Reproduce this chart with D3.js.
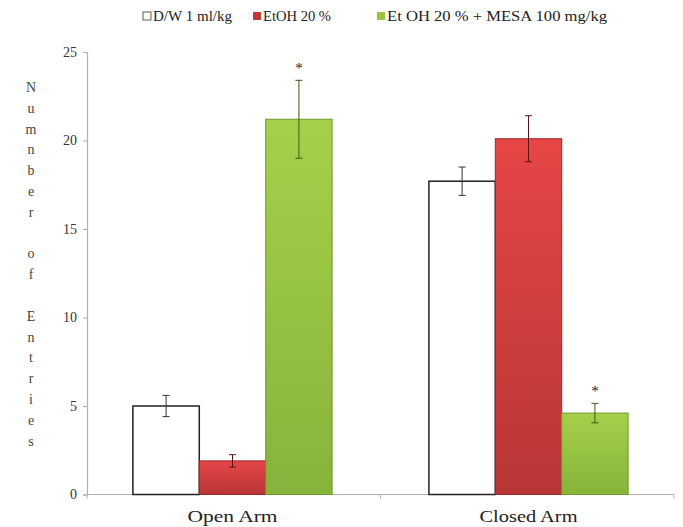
<!DOCTYPE html>
<html>
<head>
<meta charset="utf-8">
<script src="https://cdn.jsdelivr.net/npm/d3@7"></script>
<style>
  body { margin: 0; background: #fff; }
  text { font-family: "Liberation Serif", "Times New Roman", serif; }
</style>
</head>
<body>
<svg id="chart" width="683" height="527"></svg>
<script>
const categories = ["Open Arm", "Closed Arm"];
const seriesNames = ["D/W 1 ml/kg", "EtOH 20 %", "Et OH 20 % + MESA 100 mg/kg"];
const dwValues = [5.0, 17.7];
const etohValues = [1.9, 20.1];
const mesaValues = [21.2, 4.6];
const dwErrors = [0.6, 0.8];
const etohErrors = [0.35, 1.3];
const mesaErrors = [2.2, 0.55];
const significant = [[false, false, true], [false, false, true]];
const yTicks = [0, 5, 10, 15, 20, 25];
const yTitle = ["N","u","m","n","b","e","r","","o","f","","E","n","t","r","i","e","s"];

const seriesValues = [dwValues, etohValues, mesaValues];
const seriesErrors = [dwErrors, etohErrors, mesaErrors];

const svg = d3.select("#chart");
const defs = svg.append("defs");
const mkGrad = (id, top, bottom) => {
  const g = defs.append("linearGradient").attr("id", id).attr("x1", 0).attr("y1", 0).attr("x2", 0).attr("y2", 1);
  g.append("stop").attr("offset", "0%").attr("stop-color", top);
  g.append("stop").attr("offset", "100%").attr("stop-color", bottom);
};
mkGrad("gRed", "#e64646", "#b83636");
mkGrad("gGreen", "#a6d04a", "#86b43a");

const fills = ["#ffffff", "url(#gRed)", "url(#gGreen)"];
const strokes = ["#222222", "#9a2a2a", "#6f9a2c"];
const errColors = ["#333333", "#5a1515", "#3d5a12"];

const xLeft = 87, xRight = 674, yBottom = 494.5, yTop = 52;

const x0 = d3.scaleBand().domain(categories).range([xLeft, xRight]).paddingInner(0.327).paddingOuter(0.155);
const x1 = d3.scaleBand().domain(d3.range(seriesNames.length)).range([0, x0.bandwidth()]);
const y = d3.scaleLinear().domain([0, 25]).range([yBottom, yTop]);

// y axis
const yAxis = svg.append("g").attr("transform", `translate(${xLeft},0)`)
  .call(d3.axisLeft(y).tickValues(yTicks).tickSize(4).tickPadding(6));
yAxis.attr("font-family", null);
yAxis.select(".domain").attr("stroke", "#b0b0b0").attr("stroke-width", 1.2);
yAxis.selectAll(".tick line").attr("stroke", "#b0b0b0");
yAxis.selectAll(".tick text").attr("fill", "#333").style("font-size", "14px")
  .style("font-family", "'Liberation Serif', serif");

// x axis line with boundary ticks
const xAxisG = svg.append("g");
xAxisG.append("line").attr("x1", xLeft).attr("x2", xRight).attr("y1", yBottom).attr("y2", yBottom)
  .attr("stroke", "#b0b0b0").attr("stroke-width", 1.2);
const boundaries = [xLeft, (x0(categories[0]) + x0.bandwidth() + x0(categories[1])) / 2, xRight];
xAxisG.selectAll("line.bt").data(boundaries).join("line").attr("class", "bt")
  .attr("x1", d => d).attr("x2", d => d).attr("y1", yBottom).attr("y2", yBottom + 4)
  .attr("stroke", "#b0b0b0");
const catWidths = [90, 98];
xAxisG.selectAll("text.cat").data(categories).join("text").attr("class", "cat")
  .attr("x", d => x0(d) + x0.bandwidth() / 2).attr("y", 522)
  .attr("text-anchor", "middle").attr("fill", "#222").style("font-size", "16px")
  .attr("textLength", (d, i) => catWidths[i]).attr("lengthAdjust", "spacingAndGlyphs")
  .text(d => d);

// bars
const groups = svg.append("g").selectAll("g").data(categories).join("g")
  .attr("transform", d => `translate(${x0(d)},0)`);
groups.each(function(cat, ci) {
  const g = d3.select(this);
  seriesNames.forEach((s, si) => {
    const v = seriesValues[si][ci];
    const e = seriesErrors[si][ci];
    const bx = x1(si), bw = x1.bandwidth();
    g.append("rect").attr("x", bx).attr("y", y(v)).attr("width", bw).attr("height", y(0) - y(v))
      .attr("fill", fills[si]).attr("stroke", strokes[si]).attr("stroke-width", si === 0 ? 1.5 : 1);
    const cx = bx + bw / 2;
    const ec = errColors[si];
    g.append("line").attr("x1", cx).attr("x2", cx).attr("y1", y(v + e)).attr("y2", y(v - e))
      .attr("stroke", ec).attr("stroke-width", 1);
    [v + e, v - e].forEach(t => {
      g.append("line").attr("x1", cx - 3.5).attr("x2", cx + 3.5).attr("y1", y(t)).attr("y2", y(t))
        .attr("stroke", ec).attr("stroke-width", 1);
    });
    if (significant[ci][si]) {
      g.append("text").attr("x", cx).attr("y", y(v + e) - 7).attr("text-anchor", "middle")
        .attr("fill", "#222").style("font-size", "15px").text("*");
    }
  });
});

// y title (stacked letters)
svg.append("g").selectAll("text").data(yTitle).join("text")
  .attr("x", 31).attr("y", (d, i) => 92 + i * 20.8).attr("text-anchor", "middle")
  .attr("fill", "#444").style("font-size", "14px").text(d => d);

// legend
const legendX = [143, 253, 377];
const legendWidths = [79, 68, 220];
const legend = svg.append("g").selectAll("g").data(seriesNames).join("g")
  .attr("transform", (d, i) => `translate(${legendX[i]},0)`);
legend.append("rect").attr("x", 0).attr("y", 12).attr("width", 8).attr("height", 8)
  .attr("fill", (d, i) => i === 0 ? "#fff" : (i === 1 ? "#c03a3a" : "#9cc440"))
  .attr("stroke", (d, i) => i === 0 ? "#333" : "none").attr("stroke-width", 0.8);
legend.append("text").attr("x", 10).attr("y", 21).attr("fill", "#222")
  .style("font-size", "15px")
  .attr("textLength", (d, i) => legendWidths[i]).attr("lengthAdjust", "spacingAndGlyphs")
  .text(d => d);
</script>
</body>
</html>
